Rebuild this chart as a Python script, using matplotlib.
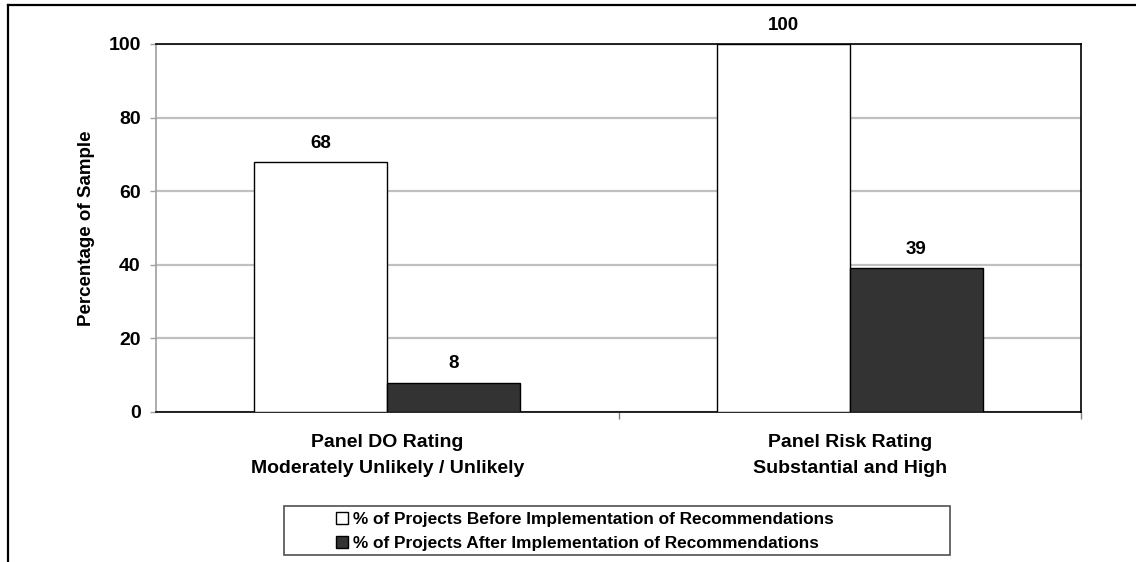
import matplotlib
matplotlib.use("Agg")
import matplotlib.pyplot as plt
from matplotlib.patches import Rectangle
from matplotlib.lines import Line2D
import numpy as np

plt.rcParams['font.family'] = ['Liberation Sans', 'DejaVu Sans']
plt.rcParams['font.weight'] = 'bold'

categories = ["Panel DO Rating\nModerately Unlikely / Unlikely",
              "Panel Risk Rating\nSubstantial and High"]
series_names = ["% of Projects Before Implementation of Recommendations",
                "% of Projects After Implementation of Recommendations"]
before_vals = [68, 100]
after_vals = [8, 39]
yticks = [0, 20, 40, 60, 80, 100]

W, H = 1136, 562
fig = plt.figure(figsize=(W / 100, H / 100), dpi=100)
ax = fig.add_axes([156 / W, 1 - 412 / H, (1081 - 156) / W, (412 - 44) / H])

x = np.arange(len(categories))
bw = 0.2875
b1 = ax.bar(x - bw / 2, before_vals, bw, color='white', edgecolor='black',
            linewidth=1.0, label=series_names[0], zorder=3)
b2 = ax.bar(x + bw / 2, after_vals, bw, color='#333333', edgecolor='black',
            linewidth=1.0, label=series_names[1], zorder=3)

for bars, vals in ((b1, before_vals), (b2, after_vals)):
    for r, v in zip(bars, vals):
        ax.annotate(f"{v}", (r.get_x() + r.get_width() / 2, v),
                    xytext=(0, 13.5), textcoords='offset points',
                    ha='center', va='center', fontsize=13.5, fontweight='bold')

ax.set_xlim(-0.5, len(categories) - 0.5)
ax.set_ylim(0, 100)
ax.set_yticks(yticks)
ax.set_yticklabels([str(t) for t in yticks])
ax.yaxis.grid(True, color='#c0c0c0', linewidth=1.6, zorder=0)
ax.set_axisbelow(True)

ax.set_xticks(x)
ax.set_xticklabels(categories, fontsize=14, fontweight='bold')
for lab in ax.get_xticklabels():
    lab.set_linespacing(1.65)
ax.set_xticks(np.arange(len(categories)) + 0.5, minor=True)
ax.tick_params(axis='x', which='major', length=0, pad=16)
ax.tick_params(axis='x', which='minor', length=5, color='#808080', width=1)
ax.tick_params(axis='y', length=4, color='#a0a0a0', width=1, pad=7,
               labelsize=14)
for lab in ax.get_yticklabels():
    lab.set_fontweight('bold')

ax.spines['left'].set_color('#a0a0a0')
ax.spines['left'].set_linewidth(1.2)
for s in ('top', 'right', 'bottom'):
    ax.spines[s].set_color('black')
    ax.spines[s].set_linewidth(1.2)

ax.set_ylabel("Percentage of Sample", fontsize=13.5, fontweight='bold')
ax.yaxis.set_label_coords((95 - 156) / (1081 - 156), 0.5)

# legend box
fig.add_artist(Rectangle((284 / W, 1 - 555 / H), (950 - 284) / W, 49 / H,
                         transform=fig.transFigure, facecolor='white',
                         edgecolor='#505050', linewidth=1.2))
leg = fig.legend(handles=[b1, b2], loc='center left',
                 bbox_to_anchor=(336 / W, 1 - 531.5 / H), frameon=False,
                 fontsize=12.4, handlelength=0.7, handleheight=0.7,
                 handletextpad=0.3, labelspacing=0.5, borderpad=0,
                 borderaxespad=0)
for t in leg.get_texts():
    t.set_fontweight('bold')

# outer chart border
fig.add_artist(Line2D([8 / W, 8 / W], [0, 1 - 5 / H], transform=fig.transFigure,
                      color='black', linewidth=1.6))
fig.add_artist(Line2D([8 / W, 1], [1 - 5 / H, 1 - 5 / H],
                      transform=fig.transFigure, color='black', linewidth=1.6))

fig.savefig("out.png", dpi=100, facecolor='white')
